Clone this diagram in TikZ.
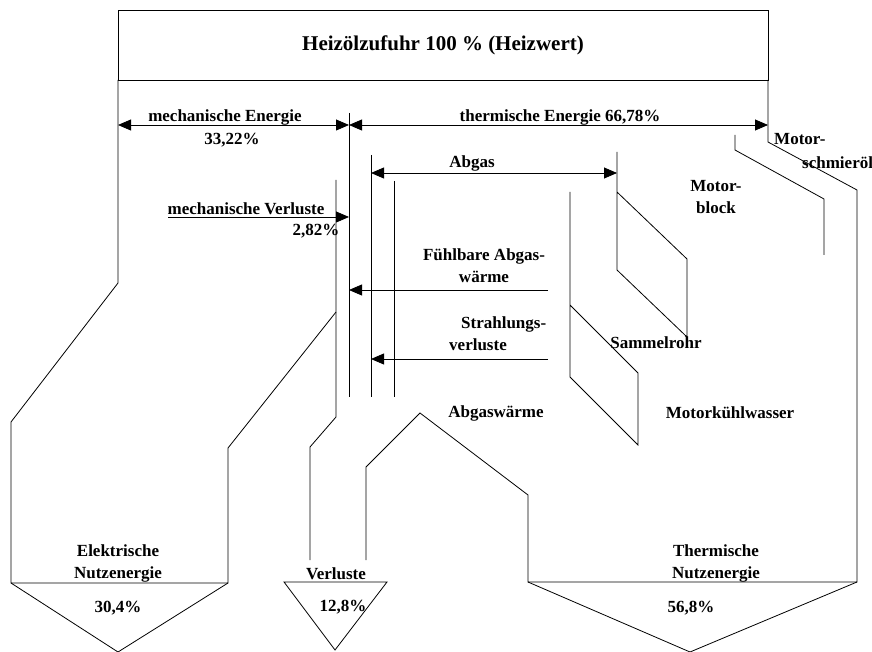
\documentclass[tikz,border=0pt]{standalone}
\usepackage{fontspec}
\setmainfont{Liberation Serif}
\usepackage{tikz}
\usetikzlibrary{arrows.meta}
\tikzstyle{flow}  =[line width=0.8pt]
\tikzstyle{pfeil} =[line width=0.8pt,
                    >={Triangle[length=13pt,width=11pt]}]
\tikzstyle{beschr}=[inner sep=0pt, align=center,
                    font=\fontsize{17}{22}\selectfont\bfseries]
\begin{document}
\begin{tikzpicture}[x=1pt,y=-1pt]
    \useasboundingbox (0,0) rectangle (872,652);

    % Kopf
    \draw[flow] (118,10) rectangle (768,80);
    \node (kopf) [beschr,font=\fontsize{21}{25}\selectfont\bfseries] at (443,45) {Heizölzufuhr 100 \% (Heizwert)};

    % Umrisse
    \draw[flow] (118,80) -- (118,283) -- (11,422) -- (11,583) -- (228,583) -- (228,448) -- (336,312);
    \draw[flow] (11,583) -- (118,652) -- (228,583);
    \draw[flow] (768,80) -- (768,142) -- (857,190) -- (857,582) -- (528,582) -- (528,495)
        -- (420,413) -- (366,467) -- (366,560);
    \draw[flow] (528,582) -- (690,652) -- (857,582);
    \draw[flow] (349,113) -- (349,397);
    \draw[flow] (336,180) -- (336,417) -- (310,447) -- (310,560);
    \draw[flow] (284,582) -- (387,582) -- (335,650) -- cycle;
    \draw[flow] (371,155) -- (371,397);
    \draw[flow] (394,181) -- (394,397);
    \draw[flow] (617,152) -- (617,270) -- (687,337) -- (687,259) -- (617,192);
    \draw[flow] (570,192) -- (570,377) -- (638,445) -- (638,373) -- (570,305);
    \draw[flow] (735,135) -- (735,150) -- (824,199) -- (824,255);

    % Pfeile
    \coordinate (meL) at (118,125);
    \coordinate (meR) at (349,125);
    \coordinate (teR) at (768,125);
    \coordinate (mvA) at (168,217);
    \coordinate (mvB) at (349,217);
    \coordinate (agL) at (371,173);
    \coordinate (agR) at (617,173);
    \coordinate (faA) at (548,290);
    \coordinate (faB) at (349,290);
    \coordinate (svA) at (548,359);
    \coordinate (svB) at (371,359);

    \foreach \i/\j in {meL/meR,meR/teR,agL/agR}
        \draw[pfeil,<->] (\i) -- (\j);
    \foreach \i/\j in {mvA/mvB,faA/faB,svA/svB}
        \draw[pfeil,->] (\i) -- (\j);

    % Beschriftungen
    \node (me)  [beschr] at (225,117) {mechanische Energie};
    \node (mep) [beschr] at (232,140) {33,22\%};
    \node (te)  [beschr] at (560,117) {thermische Energie 66,78\%};
    \node (mv)  [beschr] at (246,209) {mechanische Verluste};
    \node (mvp) [beschr] at (316,231) {2,82\%};
    \node (ag)  [beschr] at (472,163) {Abgas};
    \node (mb)  [beschr] at (716,197) {Motor-\\block};
    \node (ms1) [beschr,anchor=west] at (774,139) {Motor-};
    \node (ms2) [beschr,anchor=west] at (802,163) {schmieröl};
    \node (fa)  [beschr] at (484,266) {Fühlbare Abgas-\\wärme};
    \node (sv)  [beschr,anchor=west,align=left] at (449,334) {\hspace*{12pt}Strahlungs-\\verluste};
    \node (sr)  [beschr] at (656,343) {Sammelrohr};
    \node (aw)  [beschr] at (496,413) {Abgaswärme};
    \node (kw)  [beschr] at (730,413) {Motorkühlwasser};
    \node (el)  [beschr] at (118,563) {Elektrische\\Nutzenergie};
    \node (elp) [beschr] at (118,608) {30,4\%};
    \node (vl)  [beschr] at (336,574) {Verluste};
    \node (vlp) [beschr] at (343,607) {12,8\%};
    \node (th)  [beschr] at (716,563) {Thermische\\Nutzenergie};
    \node (thp) [beschr] at (691,608) {56,8\%};

\end{tikzpicture}
\end{document}
